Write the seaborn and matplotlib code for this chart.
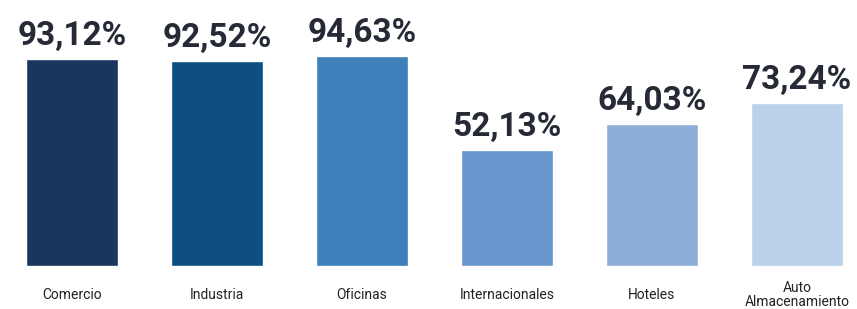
import matplotlib
matplotlib.use("Agg")
import matplotlib.pyplot as plt
import seaborn as sns
import pandas as pd

categories = ["Comercio", "Industria", "Oficinas", "Internacionales", "Hoteles", "Auto\nAlmacenamiento"]
values = [93.12, 92.52, 94.63, 52.13, 64.03, 73.24]
labels = ["93,12%", "92,52%", "94,63%", "52,13%", "64,03%", "73,24%"]
colors = ["#1a365c", "#0c4f80", "#3e80b9", "#6895cb", "#8daed6", "#b9d2e9"]

df = pd.DataFrame({"cat": categories, "val": values})

sns.set_theme(style="white")
plt.rcParams['font.family'] = ['Roboto', 'DejaVu Sans']

fig = plt.figure(figsize=(8.57, 3.09), dpi=100)
ax = fig.add_axes([0, 43/309, 1, 266/309])
sns.barplot(data=df, x="cat", y="val", hue="cat", palette=colors, legend=False,
            width=0.63, saturation=1, ax=ax)

ax.set_xlim(-72/145, (857-72)/145)
ax.set_ylim(0, 266/2.22)
for i, (v, lab) in enumerate(zip(values, labels)):
    ax.annotate(lab, (i, v), xytext=(0, 5), textcoords="offset points",
                ha="center", va="bottom", fontsize=24, fontweight="bold", color="#262a36")

ax.set_xlabel("")
ax.set_ylabel("")
ax.set_yticks([])
ax.set_xticks(range(len(categories)))
ax.set_xticklabels(categories, fontsize=10, color="#222222", va="center", linespacing=1.05)
ax.tick_params(axis="x", length=0, pad=21)
for s in ax.spines.values():
    s.set_visible(False)

fig.savefig("out.png", dpi=100)
